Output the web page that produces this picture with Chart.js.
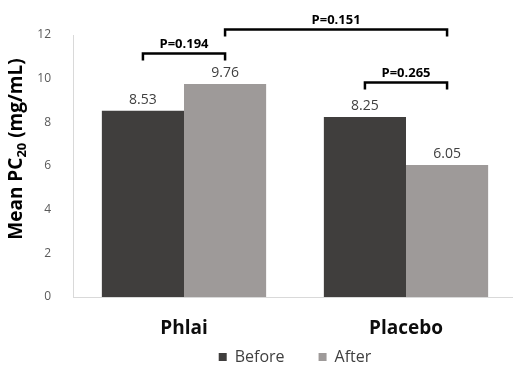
<!DOCTYPE html>
<html>
<head>
<meta charset="utf-8">
<script src="https://cdn.jsdelivr.net/npm/chart.js@4"></script>
<style>
  html, body { margin: 0; padding: 0; background: #fff; overflow: hidden; }
  #wrap { width: 517px; height: 365px; }
</style>
</head>
<body>
<div id="wrap"><canvas id="myChart"></canvas></div>
<script>
const groups = ['Phlai', 'Placebo'];
const seriesNames = ['Before', 'After'];
const beforeValues = [8.53, 8.25];
const afterValues = [9.76, 6.05];
const yTicks = [0, 2, 4, 6, 8, 10, 12];
const pLabels = ['P=0.194', 'P=0.151', 'P=0.265'];

const barColors = ['#403e3d', '#9e9a99'];
const FONT = '"Open Sans", "Liberation Sans", sans-serif';

// legend keeps wide gaps between items but should not be that tall,
// and the category labels may hang below their (shortened) axis box
const layoutTweaks = {
  id: 'layoutTweaks',
  afterInit(chart) {
    const legend = chart.legend;
    const fit = legend.fit;
    legend.fit = function () {
      fit.call(this);
      this.height = 50;
    };
  },
  beforeDraw(chart) {
    chart.scales.x._computeLabelArea = () => undefined;
  }
};

// value labels above the bars + the p-value brackets + y title with subscript
const annotations = {
  id: 'annotations',
  afterDatasetsDraw(chart) {
    const ctx = chart.ctx;
    const y = chart.scales.y;
    ctx.save();

    // value labels
    ctx.font = '14px ' + FONT;
    ctx.fillStyle = '#404040';
    ctx.textAlign = 'center';
    ctx.textBaseline = 'bottom';
    chart.data.datasets.forEach((ds, i) => {
      chart.getDatasetMeta(i).data.forEach((bar, j) => {
        ctx.fillText(ds.data[j].toFixed(2), bar.x, bar.y - 4);
      });
    });

    const cx = (ds, idx) => chart.getDatasetMeta(ds).data[idx].x;
    const bracket = (x1, x2, yv, label) => {
      const yp = y.getPixelForValue(yv);
      ctx.strokeStyle = '#000';
      ctx.lineWidth = 2.5;
      ctx.beginPath();
      ctx.moveTo(x1, yp + 7);
      ctx.lineTo(x1, yp);
      ctx.lineTo(x2, yp);
      ctx.lineTo(x2, yp + 7);
      ctx.stroke();
      ctx.font = 'bold 13px ' + FONT;
      ctx.fillStyle = '#000';
      ctx.textBaseline = 'bottom';
      ctx.fillText(label, (x1 + x2) / 2, yp - 3);
    };
    bracket(cx(0, 0), cx(1, 0), 11.15, pLabels[0]);
    bracket(cx(1, 0), cx(1, 1), 12.25, pLabels[1]);
    bracket(cx(0, 1), cx(1, 1), 9.83, pLabels[2]);

    // y axis title, rotated, with subscript
    const midY = (chart.chartArea.top + chart.chartArea.bottom) / 2 - 17;
    ctx.translate(17, midY);
    ctx.rotate(-Math.PI / 2);
    ctx.textBaseline = 'middle';
    ctx.fillStyle = '#000';
    const big = 'bold 19px ' + FONT;
    const small = 'bold 13px ' + FONT;
    const parts = [['Mean PC', big, 0], ['20', small, 5], [' (mg/mL)', big, 0]];
    let total = 0;
    parts.forEach(p => { ctx.font = p[1]; total += ctx.measureText(p[0]).width; });
    let x = -total / 2;
    ctx.textAlign = 'left';
    parts.forEach(p => {
      ctx.font = p[1];
      ctx.fillText(p[0], x, p[2]);
      x += ctx.measureText(p[0]).width;
    });
    ctx.restore();
  }
};

new Chart(document.getElementById('myChart'), {
  type: 'bar',
  data: {
    labels: groups,
    datasets: [
      { label: seriesNames[0], data: beforeValues, backgroundColor: barColors[0] },
      { label: seriesNames[1], data: afterValues, backgroundColor: barColors[1] },
    ],
  },
  options: {
    responsive: true,
    maintainAspectRatio: false,
    animation: false,
    layout: { padding: { top: 35, right: 0, left: 0, bottom: 0 } },
    datasets: {
      bar: { categoryPercentage: 0.74, barPercentage: 1.0 },
    },
    plugins: {
      tooltip: { enabled: false },
      legend: {
        position: 'bottom',
        fullSize: false,
        labels: {
          boxWidth: 8,
          boxHeight: 8,
          padding: 34,
          color: '#404040',
          font: { family: FONT, size: 16 },
        },
      },
    },
    scales: {
      x: {
        grid: { display: false },
        border: { color: '#d9d9d9', width: 1 },
        afterFit(scale) { scale.height = 18; },
        ticks: {
          color: '#0d0d0d',
          padding: 12,
          font: { family: FONT, size: 19, weight: 'bold' },
        },
      },
      y: {
        min: 0,
        max: 12,
        afterBuildTicks(scale) {
          scale.ticks = yTicks.map(v => ({ value: v }));
        },
        afterFit(scale) { scale.width = 73; },
        grid: { display: false },
        border: { color: '#d9d9d9', width: 1 },
        ticks: {
          color: '#595959',
          padding: 14,
          font: { family: FONT, size: 12 },
        },
      },
    },
  },
  plugins: [annotations, layoutTweaks],
});
</script>
</body>
</html>
